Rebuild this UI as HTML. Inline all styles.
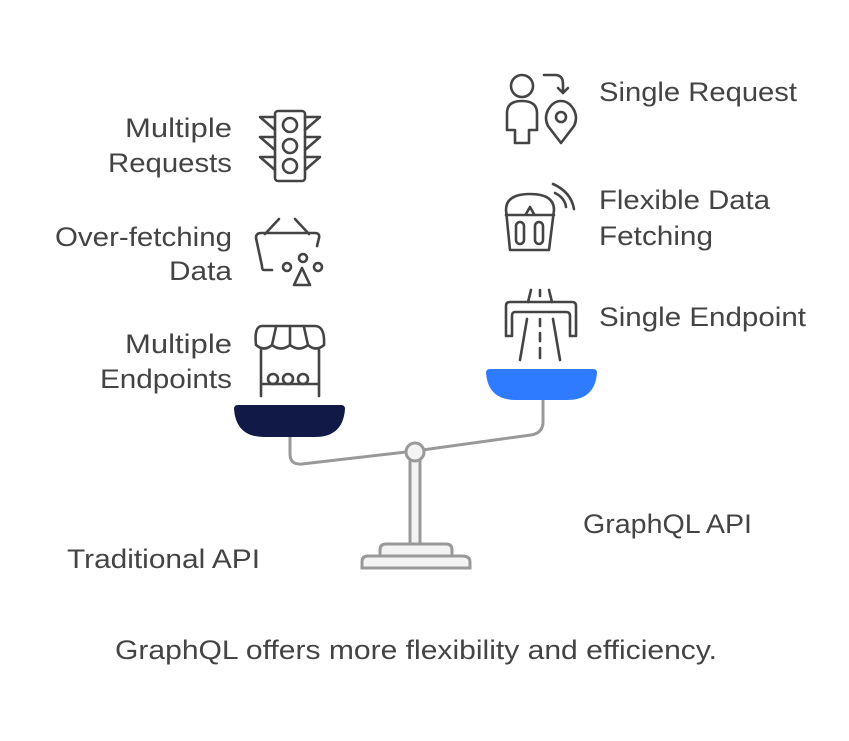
<!DOCTYPE html>
<html><head><meta charset="utf-8"><style>
html,body{margin:0;padding:0;background:#fff;}
svg{display:block;}
text{font-family:"Liberation Sans",sans-serif;font-size:27px;fill:#444;}
</style></head><body>
<svg width="849" height="741" viewBox="0 0 849 741" xmlns="http://www.w3.org/2000/svg">
<rect width="849" height="741" fill="#fff"/>
<g stroke="#999" stroke-width="3" fill="#f3f3f3">
<rect x="410" y="458" width="10" height="87"/>
<path d="M380 556 V550 Q380 544 386 544 H446 Q452 544 452 550 V556 Z"/>
<path d="M362 568 V562 Q362 556 368 556 H462 Q470 556 470 562 V568 Z"/>
</g>
<path d="M290 436 V454 Q290 465 302 464 L415 451 L531 435 Q543 433 543 422 V399" fill="none" stroke="#999" stroke-width="3"/>
<circle cx="415" cy="452" r="9" fill="#f3f3f3" stroke="#999" stroke-width="3"/>
<path d="M234 409 Q234 405 238 405 H341 Q345 405 345 409 Q343 437 315 437 H264 Q236 437 234 409 Z" fill="#111a47"/>
<path d="M486 373 Q486 369 490 369 H593 Q597 369 597 373 Q595 400 567 400 H516 Q488 400 486 373 Z" fill="#2f7bff"/>
<g fill="none" stroke="#444" stroke-width="2.6" stroke-linejoin="round" stroke-linecap="round">
<rect x="275" y="111" width="30" height="70" rx="3"/>
<circle cx="290" cy="125" r="7"/><circle cx="290" cy="146" r="7"/><circle cx="290" cy="166" r="7"/>
<path d="M275 117 L260 117 L275 130 M275 137 L260 137 L275 150 M275 157 L260 157 L275 170"/>
<path d="M305 117 L320 117 L305 130 M305 137 L320 137 L305 150 M305 157 L320 157 L305 170"/>
<path d="M265 234 L279 219 M295 219 L309 234"/>
<path d="M272 270 H264 Q262 270 262 266 L256 238 Q256 233 261 233 H315 Q320 233 319 238 L317 246"/>
<circle cx="287" cy="267" r="4"/><circle cx="303" cy="258" r="4"/><circle cx="318" cy="267" r="4"/>
<path d="M302 268 L294 285 H310 Z"/>
<path d="M256 345 Q254 326 262 326 H315 Q325 326 324 345 M256 345 Q264 352 272 345 Q281 352 290 345 Q299 352 308 345 Q316 352 324 345 M272 345 L276 327 M290 345 V327 M308 345 L304 327"/>
<path d="M261 350 V396 M319 350 V396 M261 384 H319"/>
<circle cx="273" cy="379" r="5"/><circle cx="288" cy="379" r="5"/><circle cx="303" cy="379" r="5"/>
<circle cx="522" cy="86" r="11"/>
<path d="M515 143 V130 H507 V113 Q507 101 522 101 Q537 101 537 113 V130 H529 V143 Z"/>
<path d="M544 75 H555 Q563 75 563 84 V93 M558 88 L563 93 L568 88"/>
<path d="M561 143 L548 126 Q544 118 548 110 Q553 101 561 101 Q569 101 574 110 Q578 118 574 126 Z"/>
<circle cx="561" cy="117" r="5"/>
<path d="M510 250 L506 210 Q506 194 530 194 Q554 194 554 210 L549 250 Z"/>
<path d="M506 215 H554"/>
<rect x="516" y="222" width="8" height="22" rx="4"/><rect x="535" y="222" width="8" height="22" rx="4"/>
<path d="M526 214 L530 207 L534 214"/>
<path d="M553 184 Q571 192 574 209 M555 193 Q565 198 566 207"/>
<path d="M531 290 L528 302 M540 290 V296 M549 290 L552 302"/>
<path d="M512 336 H506 V306 Q506 302 510 302 H572 Q576 302 576 306 V336 H570 V316 Q570 312 566 312 H515 Q512 312 512 316 Z"/>
<path d="M527 319 L520 360 M553 319 L560 360 M540 319 V326 M540 333 V341 M540 348 V358"/>
</g>
<g text-anchor="end">
<text x="232" y="137" textLength="107" lengthAdjust="spacingAndGlyphs">Multiple</text>
<text x="232" y="172" textLength="124" lengthAdjust="spacingAndGlyphs">Requests</text>
<text x="232" y="246" textLength="177" lengthAdjust="spacingAndGlyphs">Over-fetching</text>
<text x="232" y="280" textLength="63" lengthAdjust="spacingAndGlyphs">Data</text>
<text x="232" y="353" textLength="107" lengthAdjust="spacingAndGlyphs">Multiple</text>
<text x="232" y="388" textLength="132" lengthAdjust="spacingAndGlyphs">Endpoints</text>
</g>
<text x="599" y="101" textLength="198" lengthAdjust="spacingAndGlyphs">Single Request</text>
<text x="599" y="209" textLength="171" lengthAdjust="spacingAndGlyphs">Flexible Data</text>
<text x="599" y="245" textLength="114" lengthAdjust="spacingAndGlyphs">Fetching</text>
<text x="599" y="326" textLength="207" lengthAdjust="spacingAndGlyphs">Single Endpoint</text>
<text x="583" y="533" textLength="169" lengthAdjust="spacingAndGlyphs">GraphQL API</text>
<text x="67" y="568" textLength="193" lengthAdjust="spacingAndGlyphs">Traditional API</text>
<text x="115" y="659" textLength="602" lengthAdjust="spacingAndGlyphs">GraphQL offers more flexibility and efficiency.</text>
</svg>
</body></html>
